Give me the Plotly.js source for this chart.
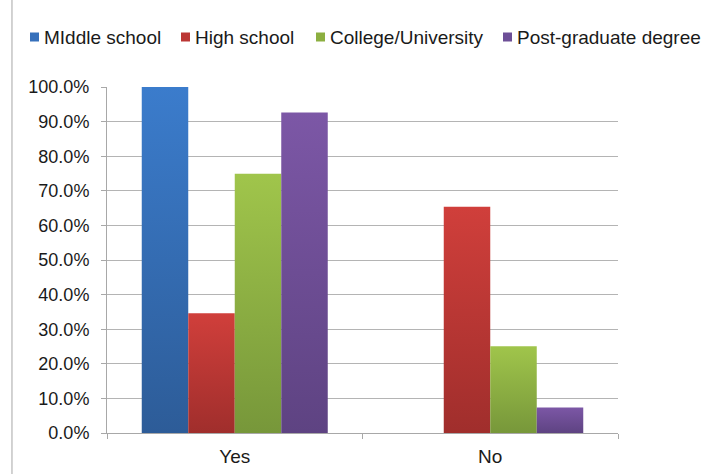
<!DOCTYPE html>
<html>
<head>
<meta charset="utf-8">
<script src="https://cdn.plot.ly/plotly-3.0.1.min.js"></script>
<style>html,body{margin:0;padding:0;background:#fff;}#chart{width:720px;height:474px;}</style>
</head>
<body>
<div id="chart"></div>
<script>
const categories = ["Yes", "No"];
const seriesNames = ["MIddle school", "High school", "College/University", "Post-graduate degree"];
const middleSchool = [1.000, 0.000];
const highSchool = [0.346, 0.654];
const college = [0.749, 0.251];
const postGrad = [0.926, 0.074];
const yTicks = [0, 0.1, 0.2, 0.3, 0.4, 0.5, 0.6, 0.7, 0.8, 0.9, 1.0];

const seriesValues = [middleSchool, highSchool, college, postGrad];
const baseColors = ["#3670bb", "#bb3634", "#8caf40", "#6d4f97"];
const gradTop = ["#3b7ccc", "#d03f3b", "#a0c54b", "#7c57a6"];
const gradBottom = ["#2d5c98", "#a02e2c", "#77973a", "#5e4382"];

// legend layout (pixel positions in the page)
const legendSymbolCenters = [34.5, 185.5, 320.5, 507.5];
const legendTextStarts = [44, 195, 330, 517];
const legendCenterY = 37;

const FONT = "Liberation Sans, Arial, Helvetica, sans-serif";

const traces = seriesValues.map((vals, i) => ({
  type: "bar",
  name: seriesNames[i],
  x: categories,
  y: vals,
  marker: { color: baseColors[i], line: { width: 0 } },
  hoverinfo: "none"
}));

const layout = {
  width: 720,
  height: 474,
  margin: { l: 107, r: 102, t: 86.7, b: 40.7, pad: 0 },
  paper_bgcolor: "#ffffff",
  plot_bgcolor: "#ffffff",
  barmode: "group",
  bargap: 0.272,
  bargroupgap: 0,
  showlegend: true,
  legend: {
    orientation: "h",
    xref: "container",
    yref: "container",
    x: 0.0,
    y: 0.952,
    xanchor: "left",
    yanchor: "middle",
    font: { family: FONT, size: 19, color: "#1a1a1a" },
    bgcolor: "rgba(0,0,0,0)",
    itemclick: false,
    traceorder: "normal"
  },
  xaxis: {
    type: "category",
    range: [-0.5, 1.5],
    tickson: "boundaries",
    ticks: "outside",
    ticklen: 5,
    tickcolor: "#a8a8a8",
    tickwidth: 1,
    showline: true,
    linecolor: "#a8a8a8",
    linewidth: 1,
    showgrid: false,
    zeroline: false,
    tickfont: { family: FONT, size: 19, color: "#1a1a1a" },
    ticklabelstandoff: 6,
    fixedrange: true
  },
  yaxis: {
    range: [0, 1],
    tickvals: yTicks,
    tickformat: ".1%",
    ticks: "outside",
    ticklen: 5,
    tickcolor: "#a8a8a8",
    tickwidth: 1,
    showline: true,
    linecolor: "#a8a8a8",
    linewidth: 1,
    showgrid: true,
    gridcolor: "#b4b4b4",
    gridwidth: 1,
    zeroline: false,
    tickfont: { family: FONT, size: 18, color: "#1a1a1a" },
    ticklabelstandoff: 8,
    fixedrange: true
  },
  shapes: [{
    type: "line",
    xref: "paper", yref: "paper",
    x0: -0.186, x1: -0.186, y0: -0.2, y1: 1.3,
    line: { color: "#c4c4c4", width: 1.5 }
  }]
};

function parseTranslate(t) {
  const m = /translate\(\s*([-\d.e]+)[ ,]*([-\d.e]*)\s*\)/.exec(t || "");
  return m ? [parseFloat(m[1]), parseFloat(m[2] || "0")] : [0, 0];
}

Plotly.newPlot("chart", traces, layout, { staticPlot: true, displayModeBar: false }).then(gd => {
  const svg = gd.querySelector("svg.main-svg");
  const defs = svg.querySelector("defs");
  const NS = "http://www.w3.org/2000/svg";
  gradTop.forEach((c, i) => {
    const lg = document.createElementNS(NS, "linearGradient");
    lg.setAttribute("id", "bargrad" + i);
    lg.setAttribute("x1", "0"); lg.setAttribute("y1", "0");
    lg.setAttribute("x2", "0"); lg.setAttribute("y2", "1");
    const s1 = document.createElementNS(NS, "stop");
    s1.setAttribute("offset", "0"); s1.setAttribute("stop-color", c);
    const s2 = document.createElementNS(NS, "stop");
    s2.setAttribute("offset", "1"); s2.setAttribute("stop-color", gradBottom[i]);
    lg.appendChild(s1); lg.appendChild(s2);
    defs.appendChild(lg);
  });
  gd.querySelectorAll(".barlayer .trace").forEach((tr, i) => {
    tr.querySelectorAll("path").forEach(p => { p.style.fill = "url(#bargrad" + i + ")"; });
  });

  // legend: single row, small squares, text close to squares
  gd.querySelectorAll(".legend [clip-path]").forEach(el => el.removeAttribute("clip-path"));
  const legendSvg = gd.querySelector(".legend");
  if (legendSvg) legendSvg.removeAttribute("clip-path");
  const items = gd.querySelectorAll(".legend .traces");
  const rootRect = svg.getBoundingClientRect();
  items.forEach((it, i) => {
    const sym = it.querySelector(".legendpoints path");
    const txt = it.querySelector("text.legendtext");
    if (!sym || !txt) return;
    sym.setAttribute("d", "M4.5,4.5H-4.5V-4.5H4.5Z");
    const sr = sym.getBoundingClientRect();
    const cx = sr.left + sr.width / 2 - rootRect.left;
    const cy = sr.top + sr.height / 2 - rootRect.top;
    const dx = legendSymbolCenters[i] - cx;
    const dy = legendCenterY - cy;
    const [tx0, ty0] = parseTranslate(it.getAttribute("transform"));
    it.setAttribute("transform", "translate(" + (tx0 + dx) + "," + (ty0 + dy) + ")");
    const tr = txt.getBoundingClientRect();
    const curLeft = tr.left - rootRect.left;
    const oldX = parseFloat(txt.getAttribute("x") || "0");
    txt.setAttribute("x", oldX + (legendTextStarts[i] - curLeft));
    txt.querySelectorAll("tspan[x]").forEach(ts => {
      ts.setAttribute("x", parseFloat(ts.getAttribute("x")) + (legendTextStarts[i] - curLeft));
    });
  });
});
</script>
</body>
</html>
